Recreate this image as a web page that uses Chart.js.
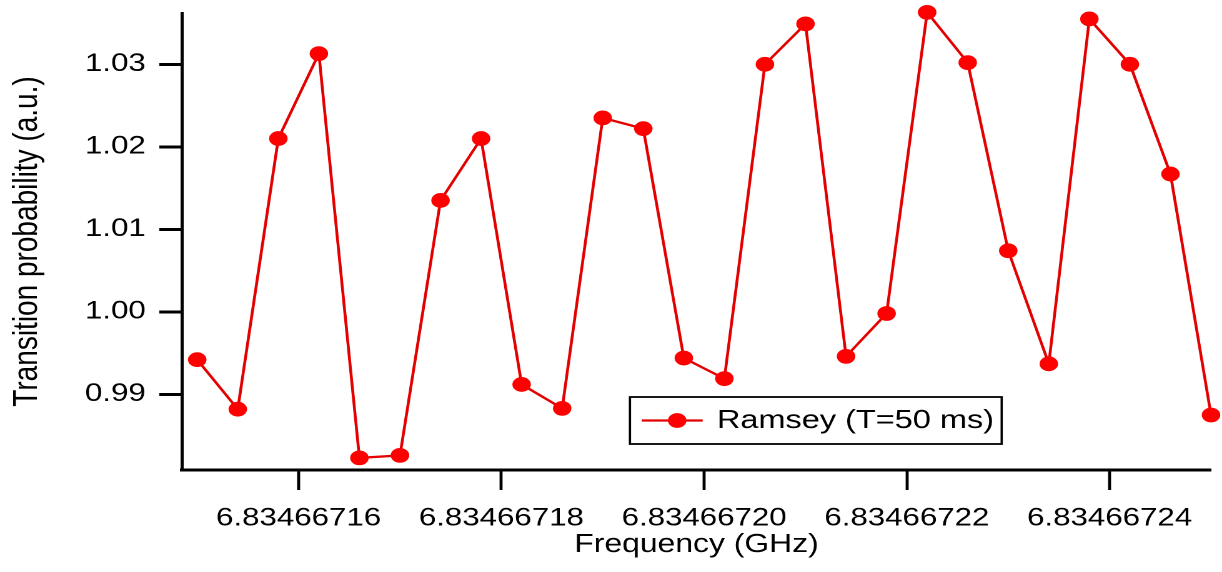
<!DOCTYPE html>
<html>
<head>
<meta charset="utf-8">
<title>Ramsey fringes</title>
<script src="https://cdn.jsdelivr.net/npm/chart.js@4.4.1/dist/chart.umd.min.js"></script>
<style>
  html, body { margin: 0; padding: 0; background: #fff; overflow: hidden; }
  #stage { width: 1222px; height: 572px; overflow: hidden; background: #fff; }
  /* the figure is laid out narrower and widened, giving its wide-set lettering */
  #wrap { width: 978px; height: 572px; transform: scaleX(1.2495); transform-origin: 0 0; }
</style>
</head>
<body>
<div id="stage"><div id="wrap"><canvas id="c"></canvas></div></div>
<script>
// Microwave frequency of each scan step (GHz)
const frequencies = [
  6.834667150, 6.834667154, 6.834667158, 6.834667162, 6.834667166,
  6.834667170, 6.834667174, 6.834667178, 6.834667182, 6.834667186,
  6.834667190, 6.834667194, 6.834667198, 6.834667202, 6.834667206,
  6.834667210, 6.834667214, 6.834667218, 6.834667222, 6.834667226,
  6.834667230, 6.834667234, 6.834667238, 6.834667242, 6.834667246,
  6.834667250
];

// Measured transition probability (a.u.)
const ramsey = [
  0.9942, 0.9882, 1.0210, 1.0313, 0.9823,
  0.9826, 1.0135, 1.0210, 0.9912, 0.9883,
  1.0235, 1.0222, 0.9944, 0.9919, 1.0300,
  1.0349, 0.9946, 0.9998, 1.0363, 1.0302,
  1.0074, 0.9937, 1.0355, 1.0300, 1.0167,
  0.9875
];

const xTickLabels = ['6.83466716', '6.83466718', '6.83466720', '6.83466722', '6.83466724'];
const yTickLabels = ['0.99', '1.00', '1.01', '1.02', '1.03'];

const seriesLabel = 'Ramsey (T=50 ms)';
const xTitle = 'Frequency (GHz)';
const yTitle = 'Transition probability (a.u.)';

const FONT = '"Liberation Sans", Arial, Helvetica, sans-serif';

// Boxed legend drawn inside the plot area, lower middle
const boxedLegend = {
  id: 'boxedLegend',
  afterDatasetsDraw(chart, args, opts) {
    const { ctx, chartArea } = chart;
    const ds = chart.data.datasets[0];
    const left = chartArea.left + opts.dx;
    const top = chartArea.top + opts.dy;
    const cy = top + opts.h / 2;
    ctx.save();
    ctx.strokeStyle = '#000';
    ctx.lineWidth = 1.8;
    ctx.strokeRect(left, top, opts.w, opts.h);
    ctx.strokeStyle = ds.borderColor;
    ctx.lineWidth = ds.borderWidth;
    ctx.beginPath();
    ctx.moveTo(left + 9.4, cy);
    ctx.lineTo(left + 58.2, cy);
    ctx.stroke();
    ctx.fillStyle = ds.pointBackgroundColor;
    ctx.beginPath();
    ctx.arc(left + 37.8, cy, ds.pointRadius, 0, Math.PI * 2);
    ctx.fill();
    ctx.fillStyle = '#000';
    ctx.font = '26px ' + FONT;
    ctx.textBaseline = 'middle';
    ctx.textAlign = 'left';
    ctx.fillText(ds.label, left + 69.6, cy + 0.5);
    ctx.restore();
  }
};

const points = frequencies.map((f, i) => ({ x: f, y: ramsey[i] }));

new Chart(document.getElementById('c'), {
  type: 'line',
  data: {
    datasets: [{
      label: seriesLabel,
      data: points,
      borderColor: '#e20000',
      borderWidth: 2.3,
      pointRadius: 7.4,
      pointHoverRadius: 7.4,
      pointBackgroundColor: '#ff0000',
      pointBorderWidth: 0,
      tension: 0,
      clip: false
    }]
  },
  options: {
    responsive: true,
    maintainAspectRatio: false,
    animation: false,
    devicePixelRatio: 2,
    events: [],
    layout: { padding: { top: 13, right: 8.8, bottom: 0, left: 0 } },
    plugins: {
      legend: { display: false },
      tooltip: { enabled: false },
      boxedLegend: { dx: 358.5, dy: 384, w: 297.5, h: 47 }
    },
    scales: {
      x: {
        type: 'linear',
        min: 6.8346671485,
        max: 6.8346672500,
        afterBuildTicks: (s) => { s.ticks = xTickLabels.map(t => ({ value: parseFloat(t) })); },
        afterFit: (s) => { s.height = 102; s.paddingLeft = 0; s.paddingRight = 0; },
        ticks: {
          callback: (v, i) => xTickLabels[i],
          font: { family: FONT, size: 25 },
          color: '#000',
          padding: 13.5,
          maxRotation: 0,
          autoSkip: false
        },
        grid: { drawOnChartArea: false, drawTicks: true, tickLength: 20, tickWidth: 2.4, tickColor: '#000' },
        border: { display: true, color: '#000', width: 3 },
        title: {
          display: true, text: xTitle, color: '#000',
          font: { family: FONT, size: 25.5 },
          padding: { top: 0, bottom: 11.5 }
        }
      },
      y: {
        type: 'linear',
        min: 0.98083,
        max: 1.03622,
        afterBuildTicks: (s) => { s.ticks = yTickLabels.map(t => ({ value: parseFloat(t) })); },
        afterFit: (s) => { s.width = 145.66; s.paddingTop = 0; s.paddingBottom = 0; },
        ticks: {
          callback: (v, i) => yTickLabels[i],
          font: { family: FONT, size: 25 },
          color: '#000',
          padding: 10.8,
          autoSkip: false
        },
        grid: { drawOnChartArea: false, drawTicks: true, tickLength: 18.2, tickWidth: 3, tickColor: '#000' },
        border: { display: true, color: '#000', width: 2.5 },
        title: {
          display: true, text: yTitle, color: '#000',
          font: { family: FONT, size: 28 },
          padding: { top: 4.8, bottom: 0 }
        }
      }
    }
  },
  plugins: [boxedLegend]
});
</script>
</body>
</html>
